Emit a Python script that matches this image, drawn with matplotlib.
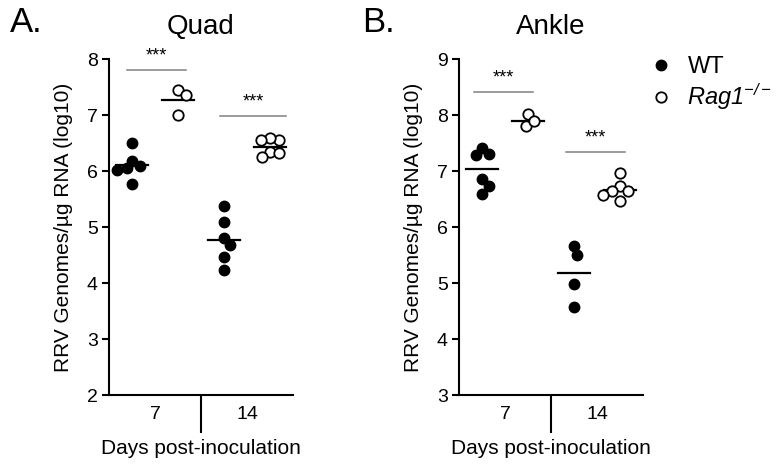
import numpy as np
import matplotlib
matplotlib.use("Agg")
import matplotlib.pyplot as plt
from matplotlib.lines import Line2D

plt.rcParams["font.family"] = ["Liberation Sans", "DejaVu Sans"]
plt.rcParams["mathtext.fontset"] = "custom"
plt.rcParams["mathtext.rm"] = "Liberation Sans:italic"
plt.rcParams["mathtext.it"] = "Liberation Sans:italic"

# values (log10 genomes / ug RNA)
quad_wt_d7 = [6.51, 6.19, 6.05, 6.03, 6.10, 5.77]
quad_rag_d7 = [7.45, 7.36, 7.00]
quad_wt_d14 = [5.38, 5.09, 4.81, 4.68, 4.47, 4.24]
quad_rag_d14 = [6.56, 6.60, 6.56, 6.34, 6.25, 6.32]

ankle_wt_d7 = [7.42, 7.29, 7.31, 6.86, 6.74, 6.59]
ankle_rag_d7 = [8.02, 7.80, 7.89]
ankle_wt_d14 = [5.67, 5.51, 4.99, 4.58]
ankle_rag_d14 = [6.96, 6.74, 6.64, 6.65, 6.58, 6.46]

day_labels = ["7", "14"]
panel_titles = ["Quad", "Ankle"]
panel_letters = ["A.", "B."]
group_names = ["WT", r"$Rag1^{-/-}$"]

W, H = 776, 466
fig = plt.figure(figsize=(W / 100, H / 100), dpi=100)

ax_w = 184 / W
ax_h = (395 - 59.3) / H
ax_b = (466 - 395) / H
axes = [fig.add_axes([109 / W, ax_b, ax_w, ax_h]),
        fig.add_axes([459 / W, ax_b, ax_w, ax_h])]
ylims = [(2, 8), (3, 9)]


def swarm(vals, ppx, ppy, d=9.5):
    # simple beeswarm: returns x offsets (data units)
    vals = np.asarray(vals, float)
    order = np.argsort(-vals)
    placed = []  # (x_px, y_px)
    offs = np.zeros(len(vals))
    for i in order:
        y = vals[i] * ppy
        cands = [0.0]
        for (px, py) in placed:
            dy = abs(py - y)
            if dy < d:
                dx = np.sqrt(d * d - dy * dy)
                cands += [px + dx, px - dx]
        cands.sort(key=abs)
        for c in cands:
            if all((c - px) ** 2 + (y - py) ** 2 >= d * d - 1e-6 for px, py in placed):
                break
        placed.append((c, y))
        offs[i] = c / ppx
    return offs


panels = [
    [quad_wt_d7, quad_rag_d7, quad_wt_d14, quad_rag_d14],
    [ankle_wt_d7, ankle_rag_d7, ankle_wt_d14, ankle_rag_d14],
]
sig_spans = [[(0.4, 1.68), (2.42, 3.85)], [(0.32, 1.6), (2.32, 3.6)]]

for k, ax in enumerate(axes):
    ylo, yhi = ylims[k]
    ax.set_xlim(0, 4)
    ax.set_ylim(ylo, yhi)
    ppx = 184 / 4
    ppy = (395 - 59.3) / (yhi - ylo)
    for j, vals in enumerate(panels[k]):
        xc = 0.5 + j
        xs = xc + swarm(vals, ppx, ppy)
        if j % 2 == 0:
            ax.plot(xs, vals, "o", ms=7.5, mfc="black", mec="black", mew=1.0,
                    ls="none", clip_on=False, zorder=3)
        else:
            ax.plot(xs, vals, "o", ms=7.5, mfc="white", mec="black", mew=1.3,
                    ls="none", clip_on=False, zorder=3)
        m = np.mean(vals)
        ax.plot([xc - 0.34, xc + 0.34], [m, m], color="black", lw=1.6, zorder=2)
    # significance bars
    for d, (x0, x1) in enumerate(sig_spans[k]):
        top = max(max(panels[k][2 * d]), max(panels[k][2 * d + 1]))
        yb = top + 0.36 if k == 0 and d == 0 else top + 0.39
        ax.plot([x0, x1], [yb, yb], color="#808080", lw=1.1, clip_on=False)
        ax.text((x0 + x1) / 2, yb + 0.1, "***", ha="center", va="bottom",
                fontsize=13)

    for s in ["top", "right"]:
        ax.spines[s].set_visible(False)
    for s in ["left", "bottom"]:
        ax.spines[s].set_linewidth(1.5)
    ax.set_yticks(range(ylo, yhi + 1))
    ax.tick_params(axis="y", direction="out", length=5, width=1.5,
                   labelsize=14, pad=3)
    ax.set_xticks([2])
    ax.set_xticklabels([""])
    ax.tick_params(axis="x", which="major", direction="out", length=27,
                   width=1.5)
    ax.set_xticks([1, 3], minor=True)
    ax.set_xticklabels(day_labels, minor=True)
    ax.tick_params(axis="x", which="minor", length=0, labelsize=14, pad=8)
    ax.set_xlabel("Days post-inoculation", fontsize=15, labelpad=1)
    ax.set_ylabel("RRV Genomes/\u00b5g RNA (log10)", fontsize=15, labelpad=10)
    ax.set_title(panel_titles[k], fontsize=20, pad=18)

fig.text(10 / W, 1 - 6 / H, panel_letters[0], fontsize=25, va="top", ha="left")
fig.text(362 / W, 1 - 6 / H, panel_letters[1], fontsize=25, va="top", ha="left")

handles = [
    Line2D([], [], marker="o", ls="none", ms=7.5, mfc="black", mec="black"),
    Line2D([], [], marker="o", ls="none", ms=7.5, mfc="white", mec="black",
           mew=1.3),
]
fig.legend(handles, group_names, loc="upper left", bbox_to_anchor=(0.825, 0.905),
           frameon=False, fontsize=17, handlelength=0.8, handletextpad=0.7,
           labelspacing=0.15, borderpad=0)

fig.savefig("out.png", dpi=100)
